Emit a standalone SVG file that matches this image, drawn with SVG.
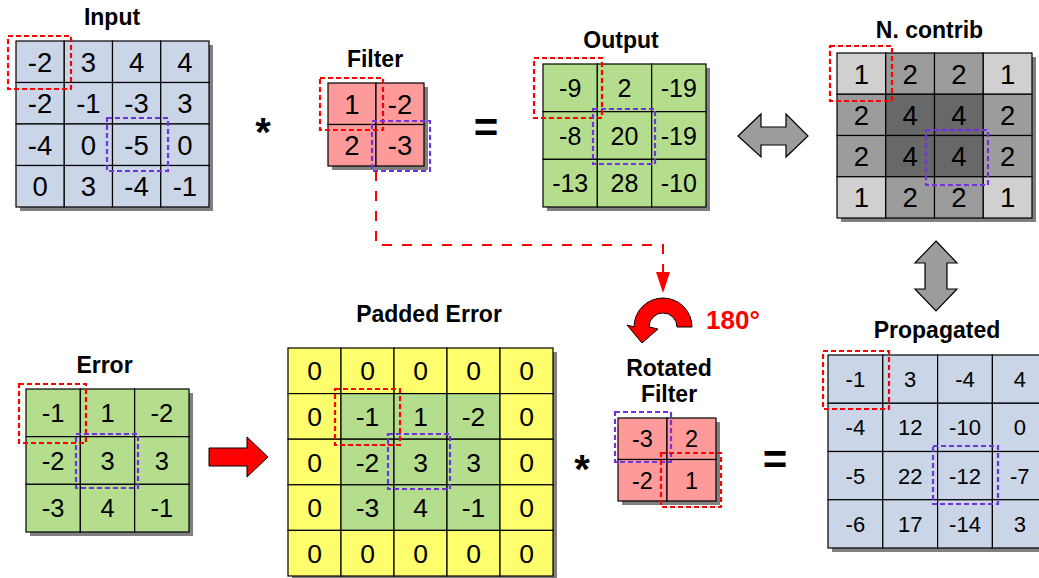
<svg xmlns="http://www.w3.org/2000/svg" width="1039" height="578" viewBox="0 0 1039 578">
<style>
  .title{font-family:"Liberation Sans",Arial,sans-serif;font-weight:bold;font-size:23px;fill:#000;text-anchor:middle}
  .num{font-family:"Liberation Sans",Arial,sans-serif;fill:#000;text-anchor:middle}
  .op{font-family:"Liberation Sans",Arial,sans-serif;font-weight:bold;fill:#000;text-anchor:middle}
  .shadow{fill:#808080}
  .c{stroke:#000;stroke-width:1.2}
  .blue{fill:#cbd5e8}
  .green{fill:#b4de8d}
  .pink{fill:#ff9a9a}
  .yellow{fill:#ffff6e}
  .g1{fill:#d0d0d0}
  .g2{fill:#9c9c9c}
  .g3{fill:#686868}
  .rbox{fill:none;stroke:#ff0000;stroke-width:2.2;stroke-dasharray:5,3}
  .pbox{fill:none;stroke:#7133dd;stroke-width:2.2;stroke-dasharray:5,3}
  .bigarrow{fill:#9c9c9c;stroke:#000;stroke-width:1.2;stroke-linejoin:miter}
</style>

<!-- Input -->
<g id="input">
  <text class="title" x="112" y="25">Input</text>
  <rect class="shadow" x="20" y="45" width="193" height="166"/>
  <g class="c blue">
    <rect x="16" y="41" width="48.25" height="41.5"/><rect x="64.25" y="41" width="48.25" height="41.5"/><rect x="112.5" y="41" width="48.25" height="41.5"/><rect x="160.75" y="41" width="48.25" height="41.5"/>
    <rect x="16" y="82.5" width="48.25" height="41.5"/><rect x="64.25" y="82.5" width="48.25" height="41.5"/><rect x="112.5" y="82.5" width="48.25" height="41.5"/><rect x="160.75" y="82.5" width="48.25" height="41.5"/>
    <rect x="16" y="124" width="48.25" height="41.5"/><rect x="64.25" y="124" width="48.25" height="41.5"/><rect x="112.5" y="124" width="48.25" height="41.5"/><rect x="160.75" y="124" width="48.25" height="41.5"/>
    <rect x="16" y="165.5" width="48.25" height="41.5"/><rect x="64.25" y="165.5" width="48.25" height="41.5"/><rect x="112.5" y="165.5" width="48.25" height="41.5"/><rect x="160.75" y="165.5" width="48.25" height="41.5"/>
  </g>
  <g class="num" font-size="27.5">
    <text x="40.1" y="71.6">-2</text><text x="88.4" y="71.6">3</text><text x="136.6" y="71.6">4</text><text x="184.9" y="71.6">4</text>
    <text x="40.1" y="113.1">-2</text><text x="88.4" y="113.1">-1</text><text x="136.6" y="113.1">-3</text><text x="184.9" y="113.1">3</text>
    <text x="40.1" y="154.6">-4</text><text x="88.4" y="154.6">0</text><text x="136.6" y="154.6">-5</text><text x="184.9" y="154.6">0</text>
    <text x="40.1" y="196.1">0</text><text x="88.4" y="196.1">3</text><text x="136.6" y="196.1">-4</text><text x="184.9" y="196.1">-1</text>
  </g>
  <rect class="rbox" x="8" y="36" width="63" height="53"/>
  <rect class="pbox" x="107" y="118" width="61" height="53"/>
</g>

<text class="op" x="263" y="146" font-size="40">*</text>

<!-- Filter -->
<g id="filter">
  <text class="title" x="375" y="66.5">Filter</text>
  <rect class="shadow" x="332" y="87" width="96" height="83"/>
  <g class="c pink">
    <rect x="328" y="83" width="48" height="41.5"/><rect x="376" y="83" width="48" height="41.5"/>
    <rect x="328" y="124.5" width="48" height="41.5"/><rect x="376" y="124.5" width="48" height="41.5"/>
  </g>
  <g class="num" font-size="27.5">
    <text x="352" y="113.6">1</text><text x="400" y="113.6">-2</text>
    <text x="352" y="155.1">2</text><text x="400" y="155.1">-3</text>
  </g>
  <rect class="rbox" x="320" y="78" width="63" height="52"/>
  <rect class="pbox" x="372" y="121" width="58" height="50"/>
</g>

<text class="op" x="486" y="142" font-size="42">=</text>

<!-- Output -->
<g id="output">
  <text class="title" x="621" y="48.3">Output</text>
  <rect class="shadow" x="547" y="68" width="163" height="143"/>
  <g class="c green">
    <rect x="543" y="64" width="54.33" height="47.67"/><rect x="597.33" y="64" width="54.33" height="47.67"/><rect x="651.67" y="64" width="54.33" height="47.67"/>
    <rect x="543" y="111.67" width="54.33" height="47.67"/><rect x="597.33" y="111.67" width="54.33" height="47.67"/><rect x="651.67" y="111.67" width="54.33" height="47.67"/>
    <rect x="543" y="159.33" width="54.33" height="47.67"/><rect x="597.33" y="159.33" width="54.33" height="47.67"/><rect x="651.67" y="159.33" width="54.33" height="47.67"/>
  </g>
  <g class="num" font-size="25">
    <text x="570.2" y="96.8">-9</text><text x="624.5" y="96.8">2</text><text x="678.8" y="96.8">-19</text>
    <text x="570.2" y="144.5">-8</text><text x="624.5" y="144.5">20</text><text x="678.8" y="144.5">-19</text>
    <text x="570.2" y="192.2">-13</text><text x="624.5" y="192.2">28</text><text x="678.8" y="192.2">-10</text>
  </g>
  <rect class="rbox" x="534" y="58" width="68" height="60"/>
  <rect class="pbox" x="593" y="109" width="62" height="55"/>
</g>

<!-- N. contrib -->
<g id="ncontrib">
  <text class="title" x="929.5" y="37.7">N. contrib</text>
  <rect class="shadow" x="841" y="57" width="195" height="165"/>
  <g class="c">
    <rect class="g1" x="837" y="53" width="48.75" height="41.25"/><rect class="g2" x="885.75" y="53" width="48.75" height="41.25"/><rect class="g2" x="934.5" y="53" width="48.75" height="41.25"/><rect class="g1" x="983.25" y="53" width="48.75" height="41.25"/>
    <rect class="g2" x="837" y="94.25" width="48.75" height="41.25"/><rect class="g3" x="885.75" y="94.25" width="48.75" height="41.25"/><rect class="g3" x="934.5" y="94.25" width="48.75" height="41.25"/><rect class="g2" x="983.25" y="94.25" width="48.75" height="41.25"/>
    <rect class="g2" x="837" y="135.5" width="48.75" height="41.25"/><rect class="g3" x="885.75" y="135.5" width="48.75" height="41.25"/><rect class="g3" x="934.5" y="135.5" width="48.75" height="41.25"/><rect class="g2" x="983.25" y="135.5" width="48.75" height="41.25"/>
    <rect class="g1" x="837" y="176.75" width="48.75" height="41.25"/><rect class="g2" x="885.75" y="176.75" width="48.75" height="41.25"/><rect class="g2" x="934.5" y="176.75" width="48.75" height="41.25"/><rect class="g1" x="983.25" y="176.75" width="48.75" height="41.25"/>
  </g>
  <g class="num" font-size="27.5">
    <text x="861.4" y="83.5">1</text><text x="910.1" y="83.5">2</text><text x="958.9" y="83.5">2</text><text x="1007.6" y="83.5">1</text>
    <text x="861.4" y="124.8">2</text><text x="910.1" y="124.8">4</text><text x="958.9" y="124.8">4</text><text x="1007.6" y="124.8">2</text>
    <text x="861.4" y="166">2</text><text x="910.1" y="166">4</text><text x="958.9" y="166">4</text><text x="1007.6" y="166">2</text>
    <text x="861.4" y="207.3">1</text><text x="910.1" y="207.3">2</text><text x="958.9" y="207.3">2</text><text x="1007.6" y="207.3">1</text>
  </g>
  <rect class="rbox" x="830" y="46" width="62" height="55"/>
  <rect class="pbox" x="926" y="130" width="62" height="55"/>
</g>

<!-- Error -->
<g id="error">
  <text class="title" x="104.5" y="373">Error</text>
  <rect class="shadow" x="30" y="393" width="163" height="143"/>
  <g class="c green">
    <rect x="26" y="389" width="54.33" height="47.67"/><rect x="80.33" y="389" width="54.33" height="47.67"/><rect x="134.67" y="389" width="54.33" height="47.67"/>
    <rect x="26" y="436.67" width="54.33" height="47.67"/><rect x="80.33" y="436.67" width="54.33" height="47.67"/><rect x="134.67" y="436.67" width="54.33" height="47.67"/>
    <rect x="26" y="484.33" width="54.33" height="47.67"/><rect x="80.33" y="484.33" width="54.33" height="47.67"/><rect x="134.67" y="484.33" width="54.33" height="47.67"/>
  </g>
  <g class="num" font-size="25.5">
    <text x="53.2" y="422">-1</text><text x="107.5" y="422">1</text><text x="161.8" y="422">-2</text>
    <text x="53.2" y="469.7">-2</text><text x="107.5" y="469.7">3</text><text x="161.8" y="469.7">3</text>
    <text x="53.2" y="517.4">-3</text><text x="107.5" y="517.4">4</text><text x="161.8" y="517.4">-1</text>
  </g>
  <rect class="rbox" x="19" y="384" width="67" height="59"/>
  <rect class="pbox" x="76" y="434" width="62" height="54"/>
</g>

<!-- Padded Error -->
<g id="padded-error">
  <text class="title" x="429" y="322">Padded Error</text>
  <rect class="shadow" x="292" y="352" width="265" height="228"/>
  <g class="c">
    <rect class="yellow" x="288" y="348" width="53" height="45.6"/><rect class="yellow" x="341" y="348" width="53" height="45.6"/><rect class="yellow" x="394" y="348" width="53" height="45.6"/><rect class="yellow" x="447" y="348" width="53" height="45.6"/><rect class="yellow" x="500" y="348" width="53" height="45.6"/>
    <rect class="yellow" x="288" y="393.6" width="53" height="45.6"/><rect class="green" x="341" y="393.6" width="53" height="45.6"/><rect class="green" x="394" y="393.6" width="53" height="45.6"/><rect class="green" x="447" y="393.6" width="53" height="45.6"/><rect class="yellow" x="500" y="393.6" width="53" height="45.6"/>
    <rect class="yellow" x="288" y="439.2" width="53" height="45.6"/><rect class="green" x="341" y="439.2" width="53" height="45.6"/><rect class="green" x="394" y="439.2" width="53" height="45.6"/><rect class="green" x="447" y="439.2" width="53" height="45.6"/><rect class="yellow" x="500" y="439.2" width="53" height="45.6"/>
    <rect class="yellow" x="288" y="484.8" width="53" height="45.6"/><rect class="green" x="341" y="484.8" width="53" height="45.6"/><rect class="green" x="394" y="484.8" width="53" height="45.6"/><rect class="green" x="447" y="484.8" width="53" height="45.6"/><rect class="yellow" x="500" y="484.8" width="53" height="45.6"/>
    <rect class="yellow" x="288" y="530.4" width="53" height="45.6"/><rect class="yellow" x="341" y="530.4" width="53" height="45.6"/><rect class="yellow" x="394" y="530.4" width="53" height="45.6"/><rect class="yellow" x="447" y="530.4" width="53" height="45.6"/><rect class="yellow" x="500" y="530.4" width="53" height="45.6"/>
  </g>
  <g class="num" font-size="26.5">
    <text x="314.5" y="380.3">0</text><text x="367.5" y="380.3">0</text><text x="420.5" y="380.3">0</text><text x="473.5" y="380.3">0</text><text x="526.5" y="380.3">0</text>
    <text x="314.5" y="425.9">0</text><text x="367.5" y="425.9">-1</text><text x="420.5" y="425.9">1</text><text x="473.5" y="425.9">-2</text><text x="526.5" y="425.9">0</text>
    <text x="314.5" y="471.5">0</text><text x="367.5" y="471.5">-2</text><text x="420.5" y="471.5">3</text><text x="473.5" y="471.5">3</text><text x="526.5" y="471.5">0</text>
    <text x="314.5" y="517.1">0</text><text x="367.5" y="517.1">-3</text><text x="420.5" y="517.1">4</text><text x="473.5" y="517.1">-1</text><text x="526.5" y="517.1">0</text>
    <text x="314.5" y="562.7">0</text><text x="367.5" y="562.7">0</text><text x="420.5" y="562.7">0</text><text x="473.5" y="562.7">0</text><text x="526.5" y="562.7">0</text>
  </g>
  <rect class="rbox" x="335" y="389" width="65" height="56"/>
  <rect class="pbox" x="388" y="434" width="62" height="55"/>
</g>

<text class="op" x="582" y="483" font-size="40">*</text>

<!-- Rotation -->
<g id="rotation">
  <path d="M692,327 A29,29 0 0 0 634,327 L627,325 L642,343 L658,329 L649,327 A14,14 0 0 1 677,327 Z" fill="#ff0000" stroke="#000" stroke-width="1"/>
  <text x="706" y="329" font-family="Liberation Sans,Arial,sans-serif" font-weight="bold" font-size="26" fill="#ff0000">180°</text>
</g>

<!-- Rotated Filter -->
<g id="rotated-filter">
  <text class="title" x="669" y="375.7">Rotated</text>
  <text class="title" x="669" y="401.7">Filter</text>
  <rect class="shadow" x="622" y="422" width="98" height="83"/>
  <g class="c pink">
    <rect x="618" y="418" width="49" height="41.5"/><rect x="667" y="418" width="49" height="41.5"/>
    <rect x="618" y="459.5" width="49" height="41.5"/><rect x="667" y="459.5" width="49" height="41.5"/>
  </g>
  <g class="num" font-size="23.5">
    <text x="642.5" y="447.2">-3</text><text x="691.5" y="447.2">2</text>
    <text x="642.5" y="488.7">-2</text><text x="691.5" y="488.7">1</text>
  </g>
  <rect class="pbox" x="615" y="412" width="56" height="50"/>
  <rect class="rbox" x="661" y="453" width="60" height="54"/>
</g>

<text class="op" x="775" y="474" font-size="42">=</text>

<!-- Propagated -->
<g id="propagated">
  <text class="title" x="937" y="338">Propagated</text>
  <rect class="shadow" x="832" y="359" width="219" height="193"/>
  <g class="c blue">
    <rect x="828" y="355" width="54.8" height="48.25"/><rect x="882.8" y="355" width="54.8" height="48.25"/><rect x="937.6" y="355" width="54.8" height="48.25"/><rect x="992.4" y="355" width="54.8" height="48.25"/>
    <rect x="828" y="403.25" width="54.8" height="48.25"/><rect x="882.8" y="403.25" width="54.8" height="48.25"/><rect x="937.6" y="403.25" width="54.8" height="48.25"/><rect x="992.4" y="403.25" width="54.8" height="48.25"/>
    <rect x="828" y="451.5" width="54.8" height="48.25"/><rect x="882.8" y="451.5" width="54.8" height="48.25"/><rect x="937.6" y="451.5" width="54.8" height="48.25"/><rect x="992.4" y="451.5" width="54.8" height="48.25"/>
    <rect x="828" y="499.75" width="54.8" height="48.25"/><rect x="882.8" y="499.75" width="54.8" height="48.25"/><rect x="937.6" y="499.75" width="54.8" height="48.25"/><rect x="992.4" y="499.75" width="54.8" height="48.25"/>
  </g>
  <g class="num" font-size="22">
    <text x="855.4" y="387">-1</text><text x="910.2" y="387">3</text><text x="965" y="387">-4</text><text x="1019.8" y="387">4</text>
    <text x="855.4" y="435.3">-4</text><text x="910.2" y="435.3">12</text><text x="965" y="435.3">-10</text><text x="1019.8" y="435.3">0</text>
    <text x="855.4" y="483.5">-5</text><text x="910.2" y="483.5">22</text><text x="965" y="483.5">-12</text><text x="1019.8" y="483.5">-7</text>
    <text x="855.4" y="531.8">-6</text><text x="910.2" y="531.8">17</text><text x="965" y="531.8">-14</text><text x="1019.8" y="531.8">3</text>
  </g>
  <rect class="rbox" x="823" y="351" width="66" height="58"/>
  <rect class="pbox" x="933" y="446" width="65" height="58"/>
</g>

<!-- Connectors -->
<g id="connectors">
  <path d="M376,171 V245 H663 V274" fill="none" stroke="#ff0000" stroke-width="2" stroke-dasharray="10,10"/>
  <polygon points="656,272 670,272 663,293" fill="#ff0000"/>
  <polygon class="bigarrow" points="738,136 761,114 761,127 786,127 786,114 808,136 786,157 786,145 761,145 761,157"/>
  <polygon class="bigarrow" points="936,241 957,263 947,263 947,289 957,289 936,311 915,289 925,289 925,263 915,263"/>
  <polygon points="209,448 247,448 247,437 268,457 247,477 247,466 209,466" fill="#ff0000" stroke="#000" stroke-width="1"/>
</g>
</svg>
